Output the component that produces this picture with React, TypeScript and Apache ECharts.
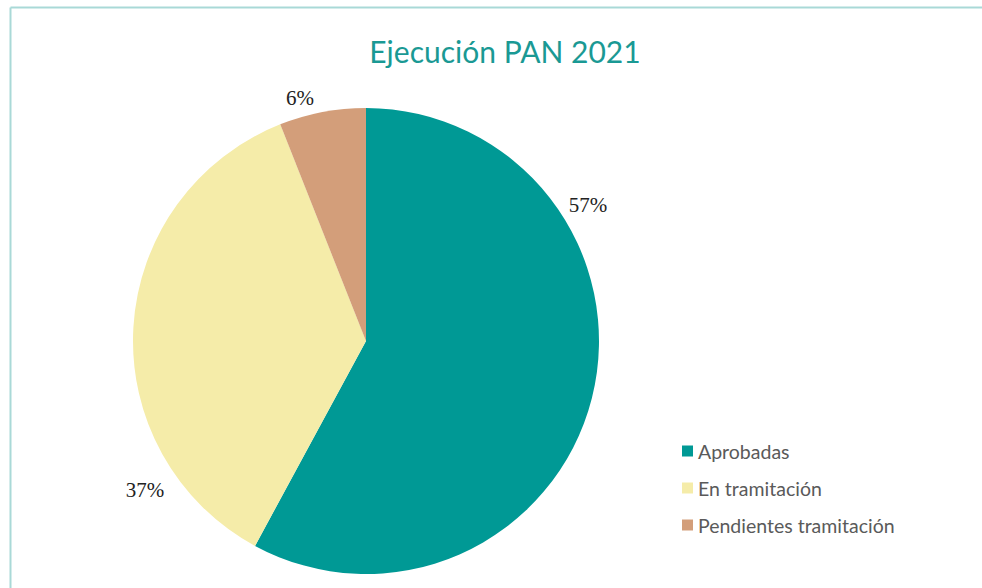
import React, { useEffect, useRef } from "react";
import * as echarts from "echarts";

const categories = ["Aprobadas", "En tramitación", "Pendientes tramitación"];
const values = [57.9, 36.1, 6.0];
const percentLabels = ["57%", "37%", "6%"];
const colors = ["#009995", "#f5eca9", "#d39e7a"];
const labelSpots = [
  [588, 205],
  [145, 490],
  [300, 98],
];

export default function App() {
  const ref = useRef<HTMLDivElement>(null);
  useEffect(() => {
    const chart = echarts.init(ref.current!, null, { renderer: "svg" });
    chart.setOption({
      animation: false,
      backgroundColor: "#ffffff",
      title: {
        text: "Ejecución PAN 2021",
        left: 500,
        top: 31,
        textAlign: "center",
        textStyle: {
          fontFamily: "Lato",
          fontWeight: "normal",
          fontSize: 30,
          color: "#1a9994",
        },
      },
      legend: {
        orient: "vertical",
        left: 677,
        top: 436,
        itemWidth: 11,
        itemHeight: 11,
        itemGap: 17,
        icon: "rect",
        data: categories,
        textStyle: {
          fontFamily: "Lato",
          fontSize: 19.5,
          lineHeight: 19,
          color: "#5a5a5a",
        },
      },
      graphic: [
        {
          type: "line",
          shape: { x1: 10.5, y1: 7.5, x2: 982, y2: 7.5 },
          style: { stroke: "#a9d9d7", lineWidth: 2 },
        },
        {
          type: "line",
          shape: { x1: 10.5, y1: 7.5, x2: 10.5, y2: 588 },
          style: { stroke: "#a9d9d7", lineWidth: 2 },
        },
      ],
      series: [
        {
          type: "pie",
          center: [366, 341],
          radius: 233,
          startAngle: 90,
          clockwise: true,
          data: categories.map((name, i) => ({
            name,
            value: values[i],
            itemStyle: { color: colors[i] },
          })),
          label: {
            show: true,
            position: "outside",
            formatter: (p: any) => percentLabels[p.dataIndex],
            fontFamily: "Liberation Serif",
            fontSize: 21,
            color: "#222222",
          },
          labelLine: { show: false },
          labelLayout: (p: any) => ({
            x: labelSpots[p.dataIndex][0],
            y: labelSpots[p.dataIndex][1],
            align: "center",
            verticalAlign: "middle",
          }),
          emphasis: { disabled: true },
        },
      ],
    });
    return () => chart.dispose();
  }, []);
  return (
    <div
      ref={ref}
      style={{ position: "fixed", left: 0, top: 0, width: 982, height: 588 }}
    />
  );
}
